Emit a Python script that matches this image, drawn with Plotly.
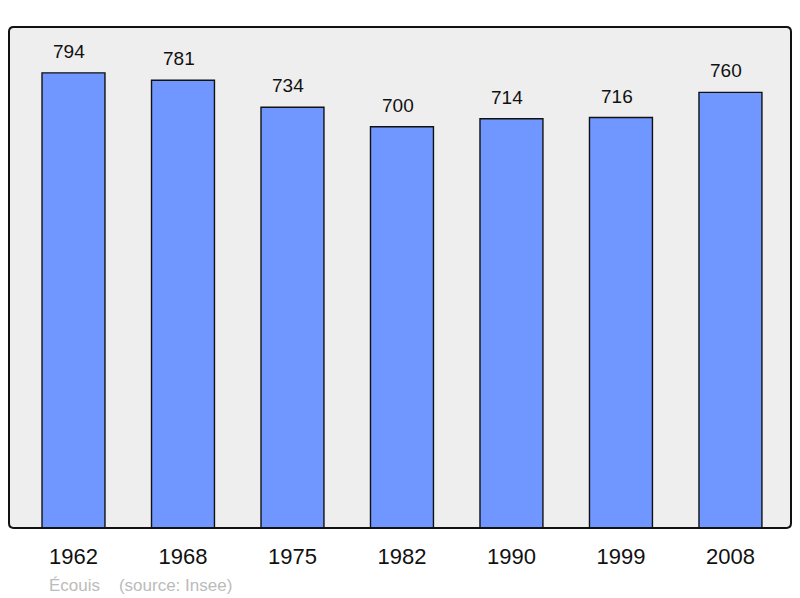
import plotly.graph_objects as go

# -----------------------------
# DATA
# -----------------------------
years = ["1962", "1968", "1975", "1982", "1990", "1999", "2008"]
population = [794, 781, 734, 700, 714, 716, 760]
source_text = "Écouis    (source: Insee)"

# -----------------------------
# FIGURE
# -----------------------------
fig = go.Figure()

fig.add_trace(go.Bar(
    x=years,
    y=population,
    width=0.575,
    marker=dict(color="#7097ff", line=dict(color="#111111", width=1.4)),
    hoverinfo="x+y",
))

# value labels above bars (x given as category index)
for i, val in enumerate(population):
    fig.add_annotation(
        x=i, y=val, text=str(val), showarrow=False,
        yanchor="bottom", yshift=9, xshift=-4,
        font=dict(family="Liberation Sans, Arial", size=19, color="#111111"),
    )

# source line
fig.add_annotation(
    xref="paper", yref="paper", x=0.048, y=-0.114,
    xanchor="left", yanchor="middle", showarrow=False,
    text=source_text,
    font=dict(family="Liberation Sans, Arial", size=17, color="#bbbbbb"),
)

# rounded frame around the plot area
r = 0.006
ry = r * 782 / 501
frame = (
    f"M {r},0 L {1 - r},0 Q 1,0 1,{ry} L 1,{1 - ry} Q 1,1 {1 - r},1 "
    f"L {r},1 Q 0,1 0,{1 - ry} L 0,{ry} Q 0,0 {r},0 Z"
)
fig.add_shape(type="path", xref="paper", yref="paper", path=frame,
              line=dict(color="#111111", width=2), layer="above")

fig.update_layout(
    width=800, height=598,
    margin=dict(l=9, r=9, t=27, b=70),
    paper_bgcolor="white",
    plot_bgcolor="#eeeeee",
    showlegend=False,
    font=dict(family="Liberation Sans, Arial", color="#111111"),
    xaxis=dict(
        type="category",
        range=[-0.589, 6.553],
        showgrid=False, zeroline=False, showline=False,
        ticks="", tickfont=dict(size=22, color="#111111"),
        ticklabelstandoff=13,
    ),
    yaxis=dict(
        range=[0, 874],
        showgrid=False, zeroline=False, showline=False,
        showticklabels=False, ticks="",
    ),
)

fig.write_html("out.html", config={"displayModeBar": False},
               post_script="document.body.style.margin='0';")
